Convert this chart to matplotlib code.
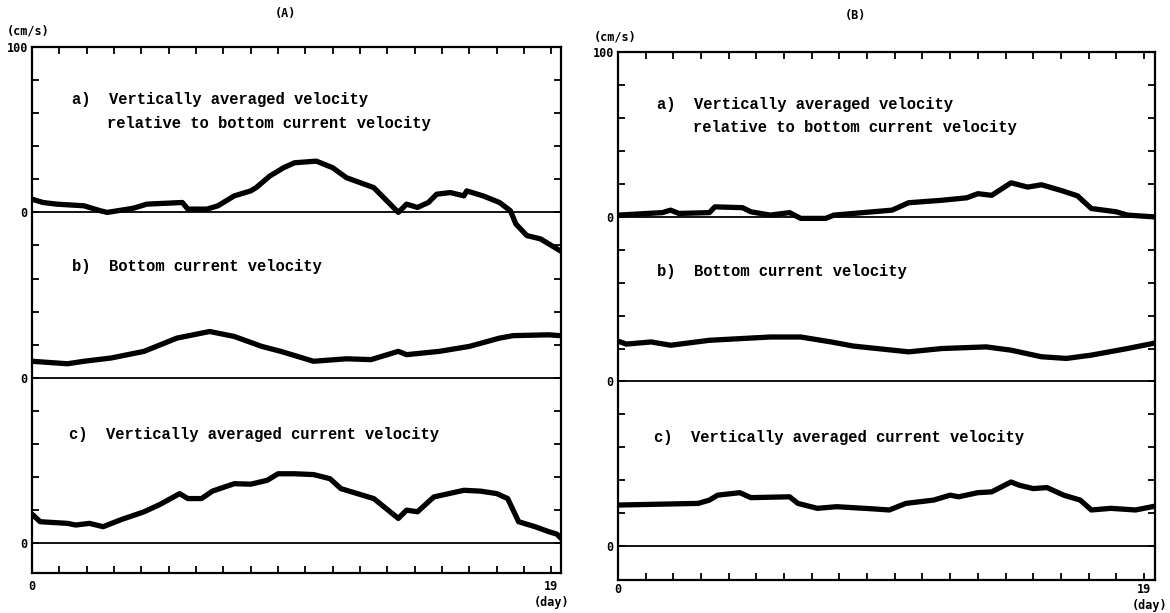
import numpy as np
import matplotlib
matplotlib.use("Agg")
import matplotlib.pyplot as plt

# station A, days and velocities (cm/s)
a_rel_day = [0.0, 0.4, 0.9, 1.9, 2.5, 2.75, 3.7, 4.2, 5.5, 5.7, 6.4, 6.8, 7.4, 8.0, 8.2, 8.7,
             9.2, 9.6, 10.4, 11.0, 11.5, 12.5, 13.4, 13.7, 14.1, 14.5, 14.8, 15.3, 15.8, 15.9,
             16.5, 17.1, 17.5, 17.7, 18.1, 18.6, 19.3]
a_rel_vel = [8, 6, 5, 4, 1, 0, 2.5, 5, 6, 2, 2, 4, 10, 13, 15, 22,
             27, 30, 31, 27, 21, 15, 0, 5, 3, 6, 11, 12, 10, 13,
             10, 6, 1, -7, -14, -16, -23]

a_bot_day = [0.0, 1.3, 1.9, 2.9, 4.1, 5.3, 6.5, 7.4, 8.4, 9.1, 10.3, 11.5, 12.4, 13.4, 13.7,
             14.9, 16.0, 17.1, 17.6, 18.9, 19.3]
a_bot_vel = [10, 8.5, 10, 12, 16, 24, 28, 25, 19, 16, 10, 11.5, 11, 16, 14,
             16, 19, 24, 25.5, 26, 25.5]

a_avg_day = [0.0, 0.3, 1.3, 1.6, 2.1, 2.6, 3.3, 4.1, 4.7, 5.4, 5.7, 6.2, 6.6, 7.4, 8.0, 8.6,
             9.0, 9.6, 10.3, 10.9, 11.3, 12.5, 13.4, 13.7, 14.1, 14.7, 15.8, 16.4, 17.0, 17.4,
             17.8, 18.4, 18.9, 19.2, 19.35]
a_avg_vel = [17.6, 13, 12, 11, 12, 10, 14.5, 19, 23.6, 30, 27, 27, 31.5, 36, 35.7, 38,
             42, 42, 41.5, 39, 33, 27, 15, 20, 19, 28, 32, 31.5, 30, 27,
             13, 10, 7, 5.5, 3]

# station B
b_rel_day = [0.0, 1.6, 1.9, 2.2, 3.3, 3.5, 4.5, 4.8, 5.5, 6.2, 6.6, 7.5, 7.8, 8.5, 9.9, 10.5,
             11.7, 12.6, 13.0, 13.5, 14.2, 14.8, 15.3, 16.0, 16.6, 17.1, 18.0, 18.4, 19.3]
b_rel_vel = [1, 2.5, 4, 2, 2.5, 6, 5.5, 3, 1, 2.5, -1, -1, 1, 2, 4, 8.5,
             10, 11.5, 14, 13, 20.6, 18, 19.4, 16, 12.7, 5, 3, 1, 0]

b_bot_day = [0.0, 0.3, 1.2, 1.9, 3.3, 5.5, 6.6, 7.7, 8.5, 10.5, 11.7, 13.3, 14.2, 15.3, 16.2,
             17.1, 18.4, 19.3]
b_bot_vel = [24.5, 22.7, 24, 22, 25, 27, 27, 24, 21.5, 18, 20, 21, 19, 15, 14,
             16, 20, 23]

b_avg_day = [0.0, 2.9, 3.3, 3.6, 4.4, 4.8, 6.2, 6.5, 7.2, 7.9, 9.2, 9.8, 10.4, 11.4, 12.0,
             12.3, 13.0, 13.5, 14.2, 14.5, 15.0, 15.5, 16.1, 16.7, 17.1, 17.8, 18.7, 19.3]
b_avg_vel = [25, 26, 28, 31, 32.5, 29.5, 30, 26, 23, 24, 22.7, 22, 26, 28, 31,
             30, 32.5, 33, 39, 37, 35, 35.6, 31, 28, 22, 23, 22, 24]

labels = ["a)  Vertically averaged velocity",
          "relative to bottom current velocity",
          "b)  Bottom current velocity",
          "c)  Vertically averaged current velocity"]

W, H = 1170, 613
mono = "Liberation Mono"
tickfont = {"family": "DejaVu Sans Mono", "weight": "bold", "size": 8.5}

fig = plt.figure(figsize=(W / 100, H / 100), dpi=100)


def panel(rect, ylo, xhi, series, title, title_xy, unit_xy, text_x, xpad, day_off):
    ax = fig.add_axes(rect)
    offsets = [200, 100, 0]
    for off in offsets:
        ax.axhline(off, color="black", lw=1.3)
    for (d, v), off in zip(series, offsets):
        ax.plot(d, np.array(v) + off, color="black", lw=3.8, solid_joinstyle="round")
    ax.set_xlim(0, xhi)
    ax.set_ylim(ylo, 300)

    yt = list(range(0, 301, 20))
    ylab = ["0" if t in offsets else ("100" if t == 300 else "") for t in yt]
    ax.set_yticks(yt)
    ax.set_yticklabels(ylab, fontdict=tickfont)
    xt = list(range(0, 20))
    ax.set_xticks(xt)
    ax.set_xticklabels(["0"] + [""] * 18 + ["19"], fontdict=tickfont)
    ax.tick_params(direction="in", length=5, width=1.3, top=True, right=True, pad=3)
    ax.tick_params(axis="x", pad=xpad)
    for s in ax.spines.values():
        s.set_linewidth(1.6)

    ax.text(text_x, 268, labels[0], family=mono, weight="bold", size=11.2, va="center")
    ax.text(text_x + 1.3, 254, labels[1], family=mono, weight="bold", size=11.2, va="center")
    ax.text(text_x, 167, labels[2], family=mono, weight="bold", size=11.2, va="center")
    ax.text(text_x - 0.1, 66, labels[3], family=mono, weight="bold", size=11.2, va="center")
    ax.annotate("(day)", xy=(19, ylo), xycoords="data", xytext=day_off,
                textcoords="offset points", ha="center", va="center", **tickfont)

    fig.text(title_xy[0] / W, 1 - title_xy[1] / H, title, ha="center", va="center", **tickfont)
    fig.text(unit_xy[0] / W, 1 - unit_xy[1] / H, "(cm/s)", ha="center", va="center", **tickfont)
    return ax


panel([32 / W, 1 - 573 / H, 529 / W, 526 / H], -18, 19.35,
      [(a_rel_day, a_rel_vel), (a_bot_day, a_bot_vel), (a_avg_day, a_avg_vel)],
      "(A)", (285, 13), (28, 31), 1.45, 5, (0, -21))
panel([618 / W, 1 - 580 / H, 537 / W, 528 / H], -20.5, 19.4,
      [(b_rel_day, b_rel_vel), (b_bot_day, b_bot_vel), (b_avg_day, b_avg_vel)],
      "(B)", (855, 15), (615, 37), 1.4, 2, (4, -18.5))

fig.savefig("out.png", dpi=100)
